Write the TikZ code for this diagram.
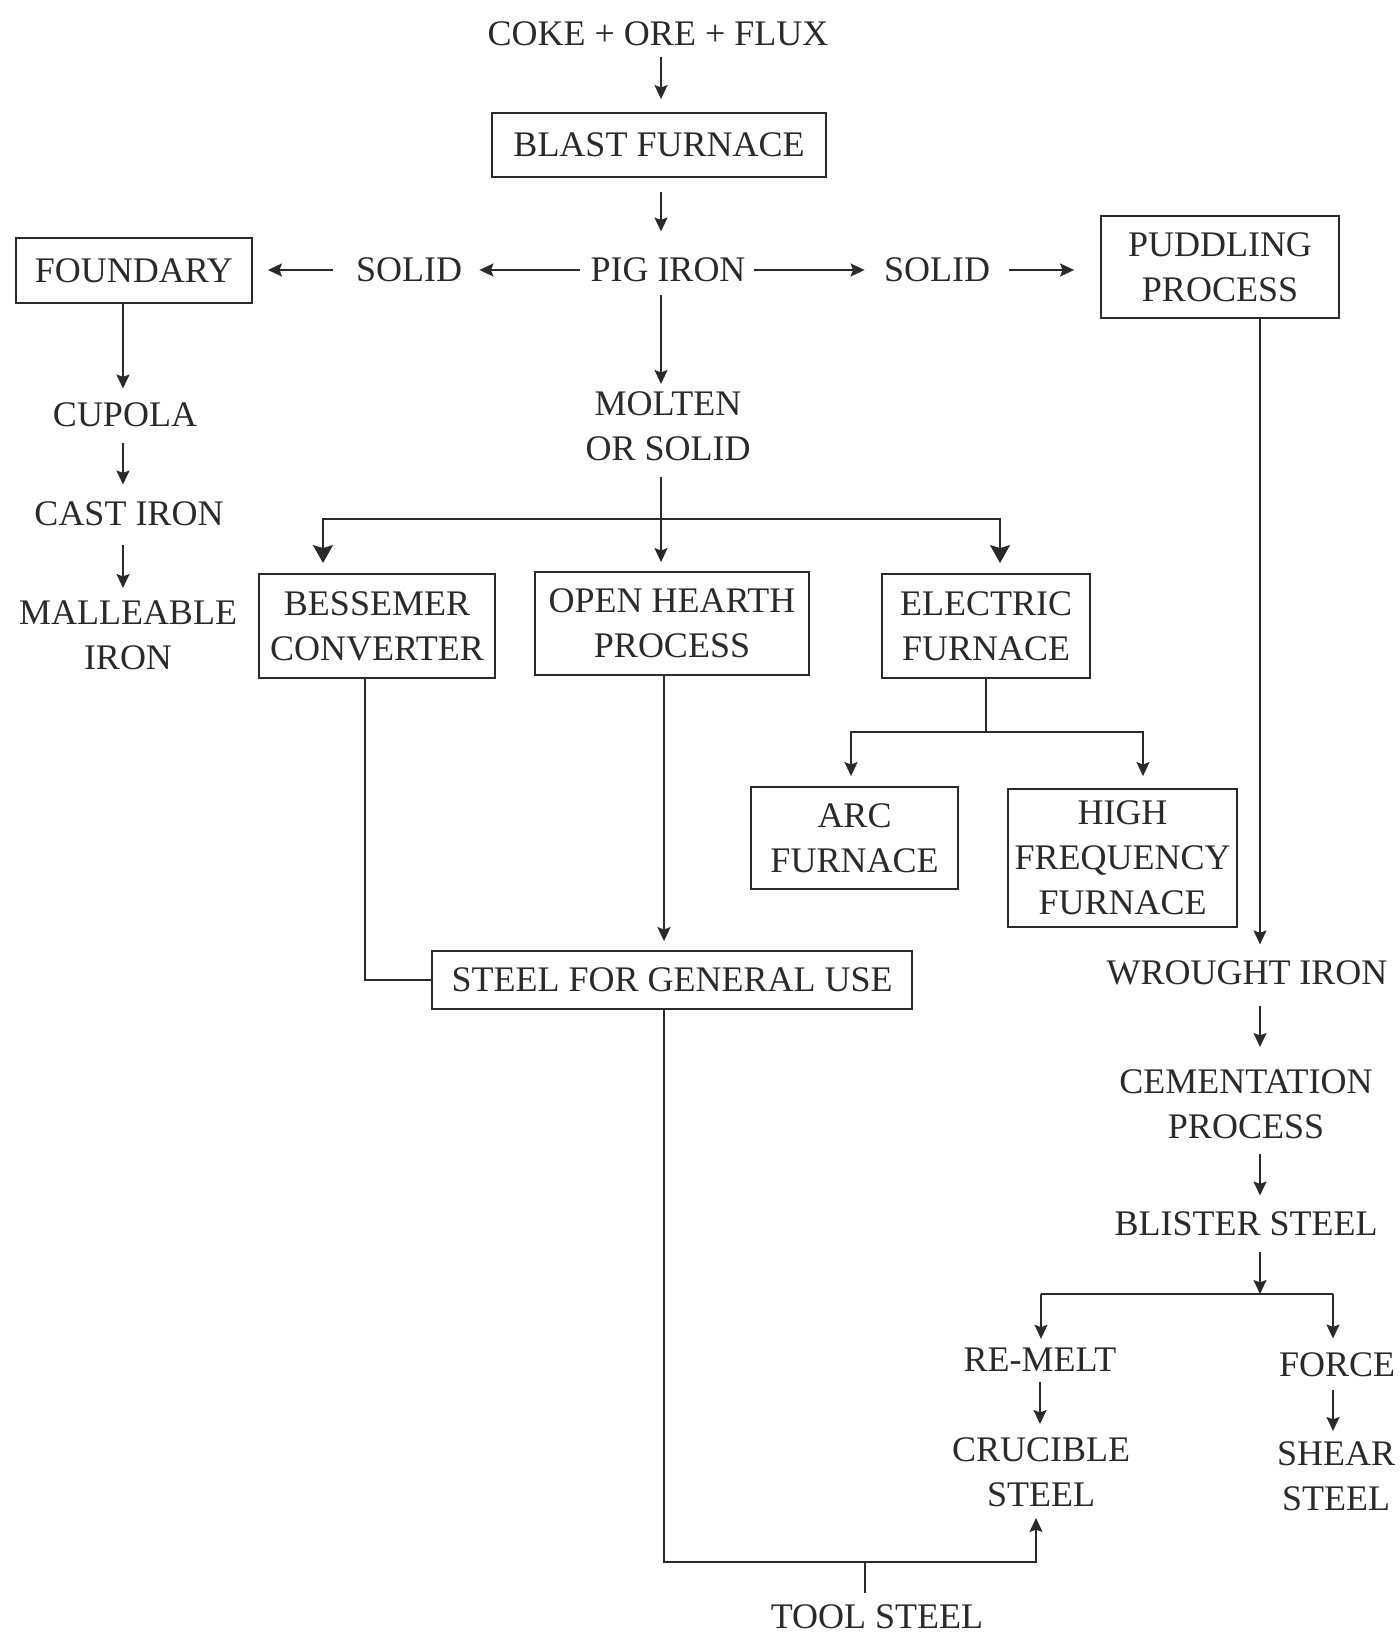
\documentclass[tikz,border=0pt]{standalone}
\usepackage{fontspec}
\setmainfont{Liberation Serif}
\usetikzlibrary{arrows.meta,calc}
\definecolor{ink}{HTML}{2A2A2A}
\tikzset{
  lbl/.style={inner sep=0pt, align=center, text=ink, font=\fontsize{18}{22.5}\selectfont},
  boxn/.style={draw=ink, line width=0.9pt, inner sep=2pt, align=center, text=ink, font=\fontsize{18}{22.5}\selectfont},
  ln/.style={draw=ink, line width=0.9pt},
  arr/.style={ln, -{Stealth[length=7pt,width=6.5pt,inset=1.2pt]}},
  arrbig/.style={ln, -{Stealth[length=9pt,width=10pt,inset=1.5pt]}}
}
\begin{document}
\begin{tikzpicture}[x=0.5pt,y=-0.5pt]
\useasboundingbox (0,0) rectangle (1399,1636);
% column / junction coordinates
\coordinate (colA) at (661,0);
\coordinate (colOH) at (664,0);
\coordinate (colB) at (365,0);
\coordinate (colF) at (123,0);
\coordinate (colR) at (1260,0);
\coordinate (barL) at (323,519);
\coordinate (barR) at (1000,519);
\coordinate (eL) at (851,732);
\coordinate (eR) at (1143,732);
\coordinate (bL) at (1041,1294);
\coordinate (bR) at (1333,1294);
\coordinate (tb) at (1036,1562);
\coordinate (tk) at (865,1562);
% nodes
\node[lbl] (coke) at (658,34) {COKE + ORE + FLUX};
\node[boxn, minimum width=167pt, minimum height=32pt] (blast) at (659,145) {BLAST FURNACE};
\node[lbl] (pig) at (668,270) {PIG IRON};
\node[lbl] (solidL) at (409,270) {SOLID};
\node[boxn, minimum width=118pt, minimum height=32.5pt] (foundary) at (134,270.5) {FOUNDARY};
\node[lbl] (solidR) at (937,270) {SOLID};
\node[boxn, minimum width=119pt, minimum height=51pt] (puddling) at (1220,267) {PUDDLING\\PROCESS};
\node[lbl] (cupola) at (125,415) {CUPOLA};
\node[lbl] (castiron) at (129,514) {CAST IRON};
\node[lbl] (malleable) at (128,635) {MALLEABLE\\IRON};
\node[lbl] (molten) at (668,426) {MOLTEN\\OR SOLID};
\node[boxn, minimum width=118pt, minimum height=52pt] (bessemer) at (377,626) {BESSEMER\\CONVERTER};
\node[boxn, minimum width=137pt, minimum height=51.5pt] (openhearth) at (672,623.5) {OPEN HEARTH\\PROCESS};
\node[boxn, minimum width=104pt, minimum height=52pt] (electric) at (986,626) {ELECTRIC\\FURNACE};
\node[boxn, minimum width=103.5pt, minimum height=51pt] (arc) at (854.5,838) {ARC\\FURNACE};
\node[boxn, minimum width=114.5pt, minimum height=69pt] (hf) at (1122.5,858) {HIGH\\FREQUENCY\\FURNACE};
\node[boxn, minimum width=240pt, minimum height=29pt] (general) at (672,980) {STEEL FOR GENERAL USE};
\node[lbl] (wrought) at (1247,973) {WROUGHT IRON};
\node[lbl] (cementation) at (1246,1104) {CEMENTATION\\PROCESS};
\node[lbl] (blister) at (1246,1224) {BLISTER STEEL};
\node[lbl] (remelt) at (1040,1360) {RE-MELT};
\node[lbl] (force) at (1337,1365) {FORCE};
\node[lbl] (crucible) at (1041,1472) {CRUCIBLE\\STEEL};
\node[lbl] (shear) at (1336,1476) {SHEAR\\STEEL};
\node[lbl] (tool) at (877,1617) {TOOL STEEL};
% main column
\draw[arr, shorten <=5.5pt, shorten >=6.5pt] (coke.south -| colA) -- (blast.north -| colA);
\draw[arr, shorten <=7pt, shorten >=13pt] (blast.south -| colA) -- (pig.north -| colA);
\draw[arr, shorten <=6.5pt, shorten >=3.5pt] (pig.south -| colA) -- (molten.north -| colA);
% pig iron row
\draw[arr, shorten <=5pt, shorten >=8.5pt] (pig.west) -- (solidL.east);
\draw[arr, shorten <=11.5pt, shorten >=7.5pt] (solidL.west) -- (solidL.west -| foundary.east);
\draw[arr, shorten <=4pt, shorten >=9.5pt] (pig.east) -- (solidR.west);
\draw[arr, shorten <=9.5pt, shorten >=13pt] (solidR.east) -- (solidR.east -| puddling.west);
% left column
\draw[arr, shorten >=7pt] (foundary.south -| colF) -- (cupola.north -| colF);
\draw[arr, shorten <=8pt, shorten >=8.5pt] (cupola.south -| colF) -- (castiron.north -| colF);
\draw[arr, shorten <=9.5pt, shorten >=6pt] (castiron.south -| colF) -- (malleable.north -| colF);
% molten or solid split
\draw[arr, shorten <=8pt, shorten >=4.5pt] (molten.south -| colA) -- (openhearth.north -| colA);
\draw[arrbig, shorten >=5pt] (barR) -- (barL) -- (barL |- bessemer.north);
\draw[arrbig, shorten >=5pt] (barL) -- (barR) -- (barR |- electric.north);
% to steel for general use
\draw[ln] (bessemer.south -| colB) |- (general.west);
\draw[arr, shorten >=4.5pt] (openhearth.south -| colOH) -- (general.north -| colOH);
% electric furnace split
\draw[arr, shorten >=5pt] (electric.south) |- (eL) -- (eL |- arc.north);
\draw[arr, shorten >=6pt] (electric.south) |- (eR) -- (eR |- hf.north);
% right column
\draw[arr, shorten >=8pt] (puddling.south -| colR) -- (wrought.north -| colR);
\draw[arr, shorten <=10pt, shorten >=11pt] (wrought.south -| colR) -- (cementation.north -| colR);
\draw[arr, shorten <=7.5pt, shorten >=8pt] (cementation.south -| colR) -- (blister.north -| colR);
\draw[arr, shorten <=7.5pt] (blister.south -| colR) -- (bL -| colR);
\draw[ln] (bL) -- (bR);
\draw[arr, shorten >=4.5pt] (bL) -- (bL |- remelt.north);
\draw[arr, shorten >=7pt] (bR) -- (bR |- force.north);
\draw[arr, shorten <=5pt, shorten >=6.5pt] (remelt.south) -- (remelt.south |- crucible.north);
\draw[arr, shorten <=6pt, shorten >=5pt] (force.south -| bR) -- (shear.north -| bR);
% tool steel
\draw[arr, shorten >=5.5pt] (general.south -| colOH) |- (tb) -- (tb |- crucible.south);
\draw[ln, shorten >=6pt] (tk) -- (tk |- tool.north);
\end{tikzpicture}
\end{document}
